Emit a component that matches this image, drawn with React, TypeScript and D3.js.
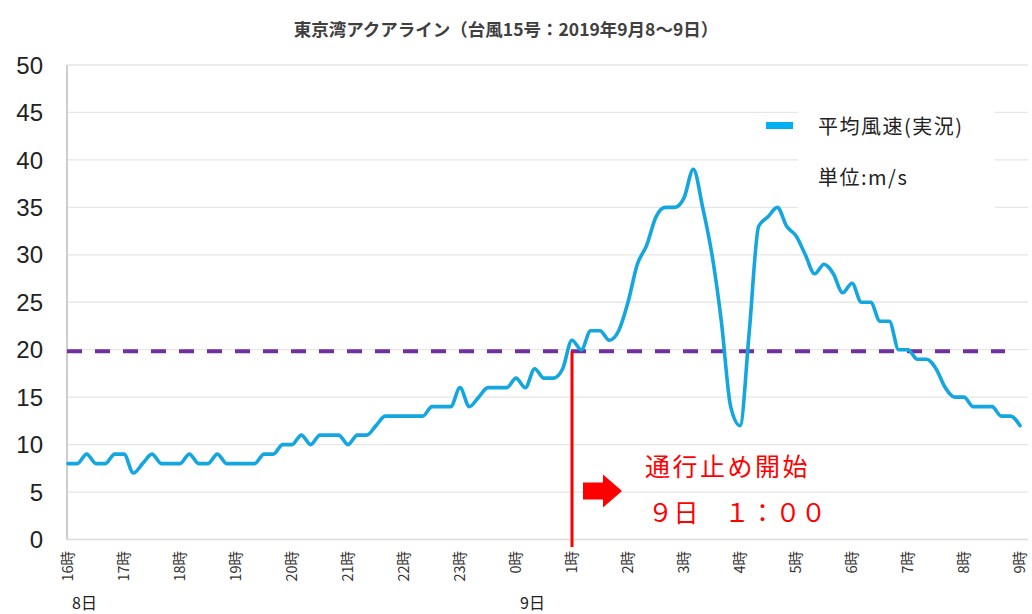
import React from "react";
import * as d3 from "d3";

// 10-minute mean wind speed, 16:00 on the 8th to 9:00 on the 9th
const windSpeed = [
  8, 8, 9, 8, 8, 9, 9, 7, 8, 9, 8, 8, 8, 9, 8, 8, 9, 8, 8, 8,
  8, 9, 9, 10, 10, 11, 10, 11, 11, 11, 10, 11, 11, 12, 13, 13, 13, 13, 13, 14,
  14, 14, 16, 14, 15, 16, 16, 16, 17, 16, 18, 17, 17, 18, 21, 20, 22, 22, 21, 22,
  25, 29, 31, 34, 35, 35, 36, 39, 35, 30, 23, 14, 12, 22, 33, 34, 35, 33, 32, 30,
  28, 29, 28, 26, 27, 25, 25, 23, 23, 20, 20, 19, 19, 18, 16, 15, 15, 14, 14, 14,
  13, 13, 12
];
const stepMinutes = 10;

const hourLabels = [
  "16時", "17時", "18時", "19時", "20時", "21時", "22時", "23時", "0時",
  "1時", "2時", "3時", "4時", "5時", "6時", "7時", "8時", "9時"
];
const dayLabels = ["8日", "9日"];
const dayStartMinutes = [0, 480];

const yTicks = [0, 5, 10, 15, 20, 25, 30, 35, 40, 45, 50];
const threshold = 20;
const closureMinute = 540; // 9日 1:00

const title = "東京湾アクアライン（台風15号：2019年9月8～9日）";
const legendLabel = "平均風速(実況)";
const unitLabel = "単位:m/s";
const noteLines = ["通行止め開始", "９日　１：００"];

const W = 1032;
const H = 614;
const lineColor = "#14a6de";
const jp = "'Noto Sans CJK JP', 'Noto Sans', sans-serif";

export default function App() {
  const x = d3.scaleLinear()
    .domain([0, (hourLabels.length - 1) * 60])
    .range([68, 1020]);
  const y = d3.scaleLinear().domain([0, 50]).range([539.5, 65]);

  const points = windSpeed.map((v, i) => [i * stepMinutes, v] as [number, number]);
  const line = d3.line<[number, number]>()
    .x(d => x(d[0]))
    .y(d => y(d[1]))
    .curve(d3.curveMonotoneX);

  const plotLeft = 67;
  const plotRight = 1028;
  const cx = x(closureMinute);
  const arrowY = 491;

  return (
    <div style={{position: "fixed", left: 0, top: 0}}>
      <svg width={W} height={H} style={{display: "block", background: "#fff"}}>
        {/* gridlines */}
        {yTicks.slice(1).map(t => (
          <line key={t} x1={plotLeft} x2={plotRight} y1={y(t)} y2={y(t)}
                stroke="#e6e6e6" strokeWidth={1.3}/>
        ))}
        <line x1={plotLeft} x2={plotRight} y1={y(0)} y2={y(0)} stroke="#dcdcdc" strokeWidth={1.3}/>
        <line x1={plotLeft} x2={plotLeft} y1={y(50)} y2={y(0)} stroke="#bdbdbd" strokeWidth={1.5}/>

        {/* legend box hides the gridlines behind it */}
        <rect x={798} y={95} width={197} height={120} fill="#fff"/>

        {/* y tick labels */}
        {yTicks.map(t => (
          <text key={t} x={43} y={y(t)} dy="0.36em" textAnchor="end"
                fontFamily="'Liberation Sans', Arial, sans-serif" fontSize={24} fill="#222">
            {t}
          </text>
        ))}

        {/* x tick labels */}
        {hourLabels.map((h, i) => (
          <text key={h} transform={`translate(${x(i * 60) + 5},551) rotate(-90)`}
                textAnchor="end" fontFamily={jp} fontSize={14.5} fill="#333">
            {h}
          </text>
        ))}
        {dayLabels.map((d, i) => (
          <text key={d} x={x(dayStartMinutes[i]) + 4} y={609} textAnchor="start"
                fontFamily={jp} fontSize={16} fill="#222">
            {d}
          </text>
        ))}

        {/* threshold */}
        <line x1={plotLeft} x2={1005} y1={y(threshold) + 1.5} y2={y(threshold) + 1.5}
              stroke="#7030a0" strokeWidth={4} strokeDasharray="15 13"/>

        {/* wind speed */}
        <path d={line(points) ?? ""} fill="none" stroke={lineColor} strokeWidth={3.6}
              strokeLinejoin="round" strokeLinecap="round"/>

        {/* closure annotation */}
        <line x1={cx} x2={cx} y1={y(threshold) + 1.5} y2={547} stroke="#ff0000" strokeWidth={3}/>
        <polygon
          points={[
            [cx + 11, arrowY - 8.5], [cx + 31, arrowY - 8.5], [cx + 31, arrowY - 16.5],
            [cx + 50, arrowY], [cx + 31, arrowY + 16.5], [cx + 31, arrowY + 8.5],
            [cx + 11, arrowY + 8.5]
          ].map(p => p.join(",")).join(" ")}
          fill="#ff0000"/>
        <text x={cx + 73} y={476} fontFamily={jp} fontSize={25} letterSpacing={2.5}
              fill="#ff0000">{noteLines[0]}</text>
        <text x={cx + 76} y={522} fontFamily={jp} fontSize={25} letterSpacing={0.5}
              fill="#ff0000">{noteLines[1]}</text>

        {/* title */}
        <text x={506} y={36} textAnchor="middle" fontFamily={jp} fontSize={17.5}
              fontWeight="bold" fill="#404040">
          {title}
        </text>

        {/* legend */}
        <rect x={766} y={122} width={27} height={7} fill="#00b0f0"/>
        <text x={818} y={134} fontFamily={jp} fontSize={20} letterSpacing={1.5} fill="#222">{legendLabel}</text>
        <text x={818} y={185} fontFamily={jp} fontSize={20} letterSpacing={1.5} fill="#222">{unitLabel}</text>
      </svg>
    </div>
  );
}
